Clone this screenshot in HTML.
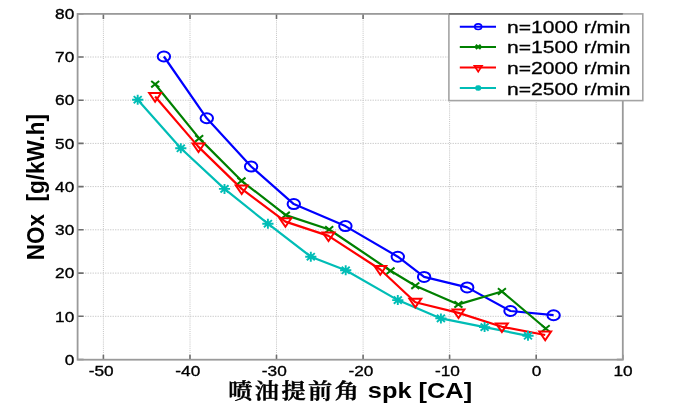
<!DOCTYPE html><html><head><meta charset="utf-8"><title>NOx vs spk</title><style>html,body{margin:0;padding:0;background:#fff;overflow:hidden}svg{display:block;will-change:transform}</style></head><body>
<svg width="691" height="411" viewBox="0 0 691 411">
<rect width="691" height="411" fill="#fff"/>
<path d="M103.4,13.9V359.7M190.0,13.9V359.7M276.5,13.9V359.7M363.1,13.9V359.7M449.6,13.9V359.7M536.2,13.9V359.7" stroke="#c6c6c6" stroke-width="1" stroke-dasharray="1.05 1.05" fill="none"/>
<path d="M77.6,316.3H622.8M77.6,273.1H622.8M77.6,229.8H622.8M77.6,186.6H622.8M77.6,143.4H622.8M77.6,100.2H622.8M77.6,57.0H622.8" stroke="#c6c6c6" stroke-width="1" stroke-dasharray="1.25 1.25" fill="none"/>
<path d="M103.4,359.7v-5.0M103.4,13.9v5.0M190.0,359.7v-5.0M190.0,13.9v5.0M276.5,359.7v-5.0M276.5,13.9v5.0M363.1,359.7v-5.0M363.1,13.9v5.0M449.6,359.7v-5.0M449.6,13.9v5.0M536.2,359.7v-5.0M536.2,13.9v5.0M622.8,359.7v-5.0M622.8,13.9v5.0M77.6,359.5h6.0M622.8,359.5h-6.0M77.6,316.3h6.0M622.8,316.3h-6.0M77.6,273.1h6.0M622.8,273.1h-6.0M77.6,229.8h6.0M622.8,229.8h-6.0M77.6,186.6h6.0M622.8,186.6h-6.0M77.6,143.4h6.0M622.8,143.4h-6.0M77.6,100.2h6.0M622.8,100.2h-6.0M77.6,57.0h6.0M622.8,57.0h-6.0M77.6,13.7h6.0M622.8,13.7h-6.0" stroke="#6e6e6e" stroke-width="1.6" fill="none"/>
<rect x="77.6" y="13.9" width="545.2" height="345.8" fill="none" stroke="#9a9a9a" stroke-width="1.8"/>
<g font-family="Liberation Sans, Arial, sans-serif" font-size="15.4" fill="#000" stroke="#000" stroke-width="0.35"><text transform="translate(74.3,364.7) scale(1.12,1)" text-anchor="end">0</text><text transform="translate(74.3,321.5) scale(1.12,1)" text-anchor="end">10</text><text transform="translate(74.3,278.3) scale(1.12,1)" text-anchor="end">20</text><text transform="translate(74.3,235.0) scale(1.12,1)" text-anchor="end">30</text><text transform="translate(74.3,191.8) scale(1.12,1)" text-anchor="end">40</text><text transform="translate(74.3,148.6) scale(1.12,1)" text-anchor="end">50</text><text transform="translate(74.3,105.4) scale(1.12,1)" text-anchor="end">60</text><text transform="translate(74.3,62.2) scale(1.12,1)" text-anchor="end">70</text><text transform="translate(74.3,18.9) scale(1.12,1)" text-anchor="end">80</text><text transform="translate(101.2,376.1) scale(1.12,1)" text-anchor="middle">-50</text><text transform="translate(187.8,376.1) scale(1.12,1)" text-anchor="middle">-40</text><text transform="translate(274.3,376.1) scale(1.12,1)" text-anchor="middle">-30</text><text transform="translate(360.9,376.1) scale(1.12,1)" text-anchor="middle">-20</text><text transform="translate(447.4,376.1) scale(1.12,1)" text-anchor="middle">-10</text><text transform="translate(536.5,376.1) scale(1.12,1)" text-anchor="middle">0</text><text transform="translate(623.1,376.1) scale(1.12,1)" text-anchor="middle">10</text></g>
<polyline points="163.9,56.5 206.8,118.3 251.1,166.5 293.8,204.1 345.4,226.1 397.8,256.7 424.1,276.9 467.2,287.4 510.5,311.0 553.6,315.2" fill="none" stroke="#0000ff" stroke-width="2.2" stroke-linejoin="round"/>
<polyline points="155.2,84.2 199.2,138.4 241.5,180.8 285.8,215.1 329.2,229.5 390.5,270.8 415.3,285.7 458.4,304.4 501.9,291.5 545.7,328.5" fill="none" stroke="#008000" stroke-width="2.2" stroke-linejoin="round"/>
<polyline points="155.1,96.5 198.5,146.9 241.7,188.9 285.4,221.6 328.5,235.9 380.3,269.5 415.3,302.2 458.5,312.9 501.9,326.8 545.2,335.0" fill="none" stroke="#ff0000" stroke-width="2.2" stroke-linejoin="round"/>
<polyline points="137.7,99.7 180.8,148.3 224.5,188.9 267.9,223.7 310.8,256.7 345.7,270.3 397.8,300.1 440.9,318.4 484.6,327.1 528.0,335.8" fill="none" stroke="#00bdb6" stroke-width="2.2" stroke-linejoin="round"/>
<ellipse cx="163.9" cy="56.5" rx="6.20" ry="5.00" fill="none" stroke="#0000ff" stroke-width="2.0"/>
<ellipse cx="206.8" cy="118.3" rx="6.20" ry="5.00" fill="none" stroke="#0000ff" stroke-width="2.0"/>
<ellipse cx="251.1" cy="166.5" rx="6.20" ry="5.00" fill="none" stroke="#0000ff" stroke-width="2.0"/>
<ellipse cx="293.8" cy="204.1" rx="6.20" ry="5.00" fill="none" stroke="#0000ff" stroke-width="2.0"/>
<ellipse cx="345.4" cy="226.1" rx="6.20" ry="5.00" fill="none" stroke="#0000ff" stroke-width="2.0"/>
<ellipse cx="397.8" cy="256.7" rx="6.20" ry="5.00" fill="none" stroke="#0000ff" stroke-width="2.0"/>
<ellipse cx="424.1" cy="276.9" rx="6.20" ry="5.00" fill="none" stroke="#0000ff" stroke-width="2.0"/>
<ellipse cx="467.2" cy="287.4" rx="6.20" ry="5.00" fill="none" stroke="#0000ff" stroke-width="2.0"/>
<ellipse cx="510.5" cy="311.0" rx="6.20" ry="5.00" fill="none" stroke="#0000ff" stroke-width="2.0"/>
<ellipse cx="553.6" cy="315.2" rx="6.20" ry="5.00" fill="none" stroke="#0000ff" stroke-width="2.0"/>
<path d="M151.2,81.0L159.2,87.4M151.2,87.4L159.2,81.0" stroke="#008000" stroke-width="2.0" fill="none"/>
<path d="M195.2,135.2L203.2,141.6M195.2,141.6L203.2,135.2" stroke="#008000" stroke-width="2.0" fill="none"/>
<path d="M237.5,177.6L245.5,184.0M237.5,184.0L245.5,177.6" stroke="#008000" stroke-width="2.0" fill="none"/>
<path d="M281.8,211.9L289.8,218.3M281.8,218.3L289.8,211.9" stroke="#008000" stroke-width="2.0" fill="none"/>
<path d="M325.2,226.3L333.2,232.7M325.2,232.7L333.2,226.3" stroke="#008000" stroke-width="2.0" fill="none"/>
<path d="M386.5,267.6L394.5,274.0M386.5,274.0L394.5,267.6" stroke="#008000" stroke-width="2.0" fill="none"/>
<path d="M411.3,282.5L419.3,288.9M411.3,288.9L419.3,282.5" stroke="#008000" stroke-width="2.0" fill="none"/>
<path d="M454.4,301.2L462.4,307.6M454.4,307.6L462.4,301.2" stroke="#008000" stroke-width="2.0" fill="none"/>
<path d="M497.9,288.3L505.9,294.7M497.9,294.7L505.9,288.3" stroke="#008000" stroke-width="2.0" fill="none"/>
<path d="M541.7,325.3L549.7,331.7M541.7,331.7L549.7,325.3" stroke="#008000" stroke-width="2.0" fill="none"/>
<path d="M149.2,93.1L161.0,93.1L155.1,101.7Z" stroke="#ff0000" stroke-width="2.0" fill="none" stroke-linejoin="miter"/>
<path d="M192.6,143.5L204.4,143.5L198.5,152.1Z" stroke="#ff0000" stroke-width="2.0" fill="none" stroke-linejoin="miter"/>
<path d="M235.8,185.5L247.6,185.5L241.7,194.1Z" stroke="#ff0000" stroke-width="2.0" fill="none" stroke-linejoin="miter"/>
<path d="M279.5,218.2L291.3,218.2L285.4,226.8Z" stroke="#ff0000" stroke-width="2.0" fill="none" stroke-linejoin="miter"/>
<path d="M322.6,232.5L334.4,232.5L328.5,241.1Z" stroke="#ff0000" stroke-width="2.0" fill="none" stroke-linejoin="miter"/>
<path d="M374.4,266.1L386.2,266.1L380.3,274.7Z" stroke="#ff0000" stroke-width="2.0" fill="none" stroke-linejoin="miter"/>
<path d="M409.4,298.8L421.2,298.8L415.3,307.4Z" stroke="#ff0000" stroke-width="2.0" fill="none" stroke-linejoin="miter"/>
<path d="M452.6,309.5L464.4,309.5L458.5,318.1Z" stroke="#ff0000" stroke-width="2.0" fill="none" stroke-linejoin="miter"/>
<path d="M496.0,323.4L507.8,323.4L501.9,332.0Z" stroke="#ff0000" stroke-width="2.0" fill="none" stroke-linejoin="miter"/>
<path d="M539.3,331.6L551.1,331.6L545.2,340.2Z" stroke="#ff0000" stroke-width="2.0" fill="none" stroke-linejoin="miter"/>
<path d="M132.1,99.7L143.3,99.7M137.7,94.7L137.7,104.7M133.7,96.1L141.7,103.3M133.7,103.3L141.7,96.1" stroke="#00bdb6" stroke-width="1.9" fill="none"/>
<path d="M175.2,148.3L186.4,148.3M180.8,143.3L180.8,153.3M176.8,144.7L184.8,151.9M176.8,151.9L184.8,144.7" stroke="#00bdb6" stroke-width="1.9" fill="none"/>
<path d="M218.9,188.9L230.1,188.9M224.5,183.9L224.5,193.9M220.5,185.3L228.5,192.5M220.5,192.5L228.5,185.3" stroke="#00bdb6" stroke-width="1.9" fill="none"/>
<path d="M262.3,223.7L273.5,223.7M267.9,218.7L267.9,228.7M263.9,220.1L271.9,227.3M263.9,227.3L271.9,220.1" stroke="#00bdb6" stroke-width="1.9" fill="none"/>
<path d="M305.2,256.7L316.4,256.7M310.8,251.7L310.8,261.7M306.8,253.1L314.8,260.3M306.8,260.3L314.8,253.1" stroke="#00bdb6" stroke-width="1.9" fill="none"/>
<path d="M340.1,270.3L351.3,270.3M345.7,265.3L345.7,275.3M341.7,266.7L349.7,273.9M341.7,273.9L349.7,266.7" stroke="#00bdb6" stroke-width="1.9" fill="none"/>
<path d="M392.2,300.1L403.4,300.1M397.8,295.1L397.8,305.1M393.8,296.5L401.8,303.7M393.8,303.7L401.8,296.5" stroke="#00bdb6" stroke-width="1.9" fill="none"/>
<path d="M435.3,318.4L446.5,318.4M440.9,313.4L440.9,323.4M436.9,314.8L444.9,322.0M436.9,322.0L444.9,314.8" stroke="#00bdb6" stroke-width="1.9" fill="none"/>
<path d="M479.0,327.1L490.2,327.1M484.6,322.1L484.6,332.1M480.6,323.5L488.6,330.7M480.6,330.7L488.6,323.5" stroke="#00bdb6" stroke-width="1.9" fill="none"/>
<path d="M522.4,335.8L533.6,335.8M528.0,330.8L528.0,340.8M524.0,332.2L532.0,339.4M524.0,339.4L532.0,332.2" stroke="#00bdb6" stroke-width="1.9" fill="none"/>
<rect x="448.9" y="13.9" width="193.9" height="86.7" fill="#fff" stroke="#a4a4a4" stroke-width="1.6"/>
<path d="M448.9,13.9H622.8" stroke="#727272" stroke-width="1.9"/>
<path d="M459.8,26.7H496.0" stroke="#0000ff" stroke-width="2"/>
<ellipse cx="478.2" cy="26.7" rx="3.47" ry="2.80" fill="none" stroke="#0000ff" stroke-width="1.6"/>
<text transform="translate(507.0,33.1) scale(1.285,1)" font-family="Liberation Sans, Arial, sans-serif" font-size="16.4" fill="#000" stroke="#000" stroke-width="0.3">n=1000 r/min</text>
<path d="M459.8,46.9H496.0" stroke="#008000" stroke-width="2"/>
<path d="M475.7,44.9L480.7,48.9M475.7,48.9L480.7,44.9" stroke="#008000" stroke-width="2.2" fill="none"/>
<text transform="translate(507.0,53.4) scale(1.285,1)" font-family="Liberation Sans, Arial, sans-serif" font-size="16.4" fill="#000" stroke="#000" stroke-width="0.3">n=1500 r/min</text>
<path d="M459.8,67.5H496.0" stroke="#ff0000" stroke-width="2"/>
<path d="M474.5,65.9L481.9,65.9L478.2,71.7Z" stroke="#ff0000" stroke-width="1.8" fill="none" stroke-linejoin="miter"/>
<text transform="translate(507.0,74.0) scale(1.285,1)" font-family="Liberation Sans, Arial, sans-serif" font-size="16.4" fill="#000" stroke="#000" stroke-width="0.3">n=2000 r/min</text>
<path d="M459.8,88.0H496.0" stroke="#00bdb6" stroke-width="2"/>
<path d="M475.1,88.0L481.3,88.0M478.2,85.2L478.2,90.8M475.9,86.0L480.5,90.0M475.9,90.0L480.5,86.0" stroke="#00bdb6" stroke-width="2.0" fill="none"/>
<text transform="translate(507.0,94.6) scale(1.285,1)" font-family="Liberation Sans, Arial, sans-serif" font-size="16.4" fill="#000" stroke="#000" stroke-width="0.3">n=2500 r/min</text>
<text transform="translate(228.2,397.9) scale(1.15,1)" font-family="Liberation Serif, Noto Serif CJK SC, serif" font-size="21" font-weight="600" letter-spacing="2.17" fill="#000" stroke="#000" stroke-width="0.5">喷油提前角</text>
<text transform="translate(367.8,398.2) scale(1.17,1)" font-family="Liberation Sans, Arial, sans-serif" font-size="21.7" font-weight="bold" fill="#000">spk [CA]</text>
<text transform="translate(43.5,260.3) scale(1.08,1) rotate(-90)" font-family="Liberation Sans, Arial, sans-serif" font-size="22.5" font-weight="bold" fill="#000" xml:space="preserve" style="white-space:pre">NOx  [g/kW.h]</text>
</svg></body></html>
